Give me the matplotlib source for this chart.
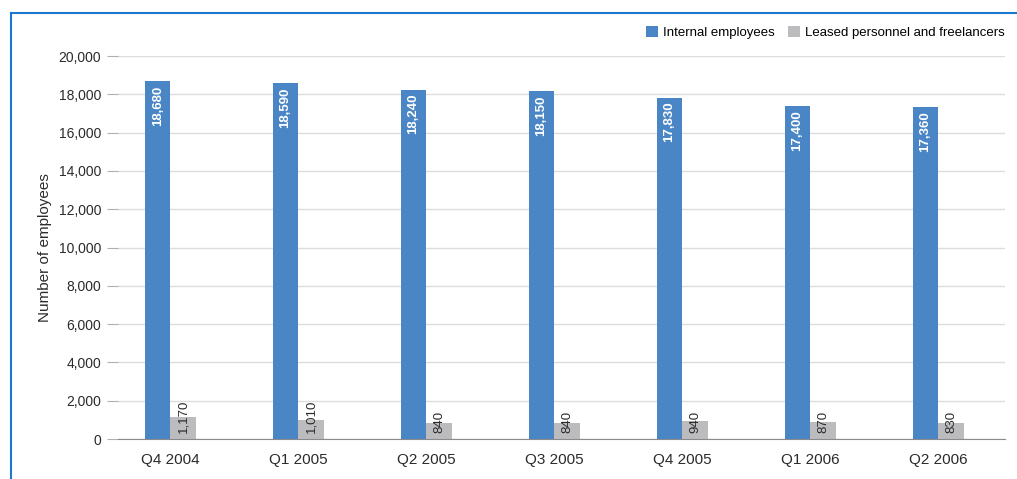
import matplotlib
matplotlib.use("Agg")
import matplotlib.pyplot as plt
from matplotlib.lines import Line2D
from matplotlib.ticker import FuncFormatter
import numpy as np

plt.rcParams.update({"font.family": ["Liberation Sans", "DejaVu Sans"]})

quarters = ["Q4 2004", "Q1 2005", "Q2 2005", "Q3 2005", "Q4 2005", "Q1 2006", "Q2 2006"]
internal = [18680, 18590, 18240, 18150, 17830, 17400, 17360]
leased = [1170, 1010, 840, 840, 940, 870, 830]

BLUE, GRAY, INK, GRID = "#4a86c5", "#bcbcbe", "#2b2b2b", "#dcdcdc"

fig = plt.figure(figsize=(10.17, 4.79), dpi=100)
ax = fig.add_axes([0.116, 0.0835, 0.872, 0.7995])

x = np.arange(len(quarters))
w = 0.2
b1 = ax.bar(x - w / 2, internal, w, color=BLUE, label="Internal employees", zorder=2)
b2 = ax.bar(x + w / 2, leased, w, color=GRAY, label="Leased personnel and freelancers", zorder=2)

for r, v in zip(b1, internal):
    ax.annotate(f"{v:,}", (r.get_x() + r.get_width() / 2, v), xytext=(0, -3),
                textcoords="offset points", rotation=90, ha="center", va="top",
                color="white", fontsize=9.5, fontweight="bold")
for r, v in zip(b2, leased):
    ax.annotate(f"{v:,}", (r.get_x() + r.get_width() / 2, 0), xytext=(0, 4.5),
                textcoords="offset points", rotation=90, ha="center", va="bottom",
                color=INK, fontsize=9.5)

ax.set_ylim(0, 20000)
ax.set_xlim(-0.41, 6.52)
ax.set_yticks(range(0, 20001, 2000))
ax.yaxis.set_major_formatter(FuncFormatter(lambda v, p: f"{int(v):,}"))
ax.set_xticks(x)
ax.set_xticklabels(quarters, fontsize=11, color=INK)
ax.tick_params(axis="y", length=8, color="#b0b0b0", labelsize=10, labelcolor=INK, pad=4)
ax.tick_params(axis="x", length=0, pad=10)
ax.grid(axis="y", color=GRID, linewidth=1, zorder=0)
for s in ["top", "right", "left"]:
    ax.spines[s].set_visible(False)
ax.spines["bottom"].set_color("#8a8a8a")
ax.set_ylabel("Number of employees", fontsize=11, color=INK, labelpad=5)

ax.legend(loc="lower right", bbox_to_anchor=(1.006, 1.03), ncol=2, frameon=False,
          fontsize=9.5, handlelength=0.9, handleheight=0.9, handletextpad=0.4,
          columnspacing=1.0, borderaxespad=0)

# blue frame (left + top)
fx, fy = 10.5 / 1017, 1 - 12.5 / 479
fig.add_artist(Line2D([fx, fx], [0, fy], color="#1a78cf", lw=1.5, transform=fig.transFigure))
fig.add_artist(Line2D([fx, 1], [fy, fy], color="#1a78cf", lw=1.5, transform=fig.transFigure))

fig.savefig("out.png", dpi=100)
